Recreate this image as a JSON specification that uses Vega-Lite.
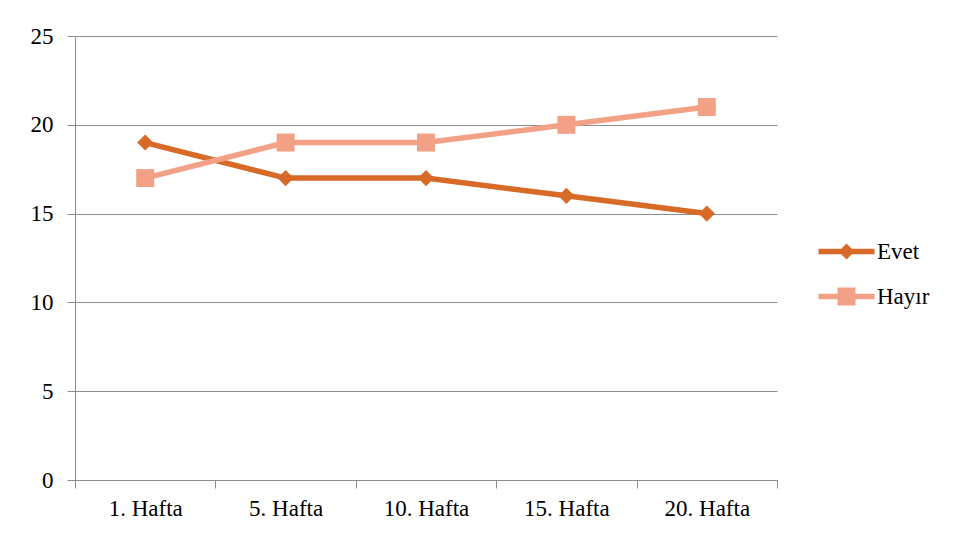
{
  "$schema": "https://vega.github.io/schema/vega-lite/v6.json",
  "width": 702,
  "height": 444,
  "autosize": {"type": "none"},
  "padding": {"left": 75, "top": 36, "right": 178, "bottom": 63},
  "background": "white",
  "config": {
    "view": {"stroke": null},
    "font": "Liberation Serif"
  },
  "data": {
    "values": [
      {"week": "1. Hafta", "series": "Evet", "value": 19},
      {"week": "5. Hafta", "series": "Evet", "value": 17},
      {"week": "10. Hafta", "series": "Evet", "value": 17},
      {"week": "15. Hafta", "series": "Evet", "value": 16},
      {"week": "20. Hafta", "series": "Evet", "value": 15},
      {"week": "1. Hafta", "series": "Hayır", "value": 17},
      {"week": "5. Hafta", "series": "Hayır", "value": 19},
      {"week": "10. Hafta", "series": "Hayır", "value": 19},
      {"week": "15. Hafta", "series": "Hayır", "value": 20},
      {"week": "20. Hafta", "series": "Hayır", "value": 21}
    ]
  },
  "encoding": {
    "x": {
      "field": "week",
      "type": "ordinal",
      "sort": ["1. Hafta", "5. Hafta", "10. Hafta", "15. Hafta", "20. Hafta"],
      "scale": {"type": "band", "paddingInner": 0, "paddingOuter": 0},
      "bandPosition": 0.5,
      "axis": {
        "title": null,
        "labelAngle": 0,
        "tickBand": "extent",
        "tickSize": 8,
        "labelPadding": 9,
        "grid": false,
        "labelFont": "Liberation Serif",
        "labelFontSize": 23,
        "labelColor": "#000000",
        "domainColor": "#8c8c8c",
        "tickColor": "#8c8c8c"
      }
    },
    "y": {
      "field": "value",
      "type": "quantitative",
      "scale": {"domain": [0, 25], "nice": false},
      "axis": {
        "title": null,
        "values": [0, 5, 10, 15, 20, 25],
        "tickSize": 8,
        "labelPadding": 14,
        "grid": true,
        "labelFont": "Liberation Serif",
        "labelFontSize": 23,
        "labelColor": "#000000",
        "domainColor": "#8c8c8c",
        "tickColor": "#8c8c8c",
        "gridColor": "#8c8c8c"
      }
    },
    "color": {
      "field": "series",
      "type": "nominal",
      "scale": {"domain": ["Evet", "Hayır"], "range": ["#D86A28", "#F2A186"]},
      "legend": {
        "title": null,
        "orient": "none",
        "legendX": 760,
        "legendY": 204,
        "padding": 0,
        "symbolSize": 400,
        "symbolType": "circle",
        "labelOffset": 19,
        "rowPadding": 21,
        "labelBaseline": "middle",
        "labelFont": "Liberation Serif",
        "labelFontSize": 23,
        "labelColor": "#000000",
        "encode": {
          "symbols": {
            "update": {
              "shape": {"signal": "datum.value === 'Evet' ? 'M-2.8,-0.27L2.8,-0.27L2.8,0.27L-2.8,0.27Z M-0.8,0L0,-0.8L0.8,0L0,0.8Z' : 'M-2.8,-0.27L2.8,-0.27L2.8,0.27L-2.8,0.27Z M-0.9,-0.9L0.9,-0.9L0.9,0.9L-0.9,0.9Z'"},
              "fill": {"scale": "color", "field": "value"},
              "stroke": {"value": "transparent"},
              "strokeWidth": {"value": 0},
              "opacity": {"value": 1},
              "fillOpacity": {"value": 1}
            }
          }
        }
      }
    }
  },
  "layer": [
    {"mark": {"type": "line", "strokeWidth": 5.5}},
    {
      "transform": [{"filter": "datum.series === 'Evet'"}],
      "mark": {"type": "point", "filled": true, "opacity": 1, "shape": "diamond", "size": 260}
    },
    {
      "transform": [{"filter": "datum.series === 'Hayır'"}],
      "mark": {"type": "point", "filled": true, "opacity": 1, "shape": "square", "size": 324}
    }
  ]
}
